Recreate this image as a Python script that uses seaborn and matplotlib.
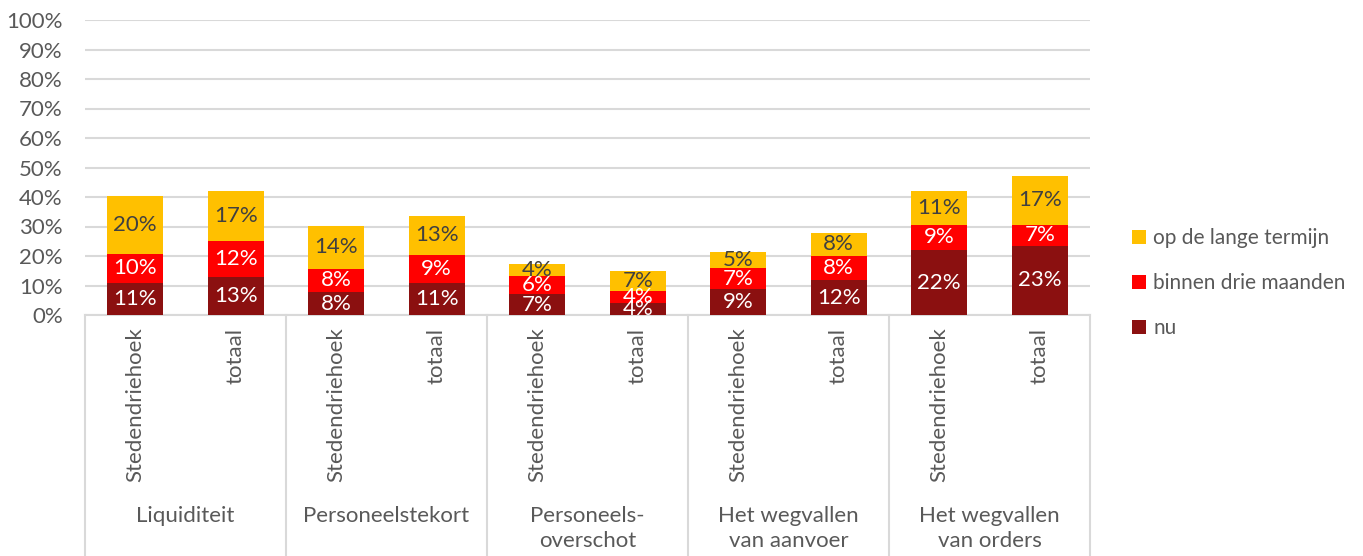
import numpy as np
import pandas as pd
import matplotlib
matplotlib.use("Agg")
import matplotlib.pyplot as plt
import matplotlib.transforms as mtransforms
import seaborn as sns

# categories
groups = ["Liquiditeit", "Personeelstekort", "Personeels-\noverschot",
          "Het wegvallen\nvan aanvoer", "Het wegvallen\nvan orders"]
subs = ["Stedendriehoek", "totaal"]

# series values (percent)
nu = [11.0, 13.0, 7.7, 11.0, 7.0, 4.0, 8.7, 11.8, 22.0, 23.4]
binnen = [9.7, 12.0, 8.0, 9.3, 6.3, 4.2, 7.3, 8.3, 8.6, 7.1]
lange = [19.7, 17.2, 14.4, 13.4, 4.0, 6.6, 5.2, 7.8, 11.3, 16.7]

series_names = ["nu", "binnen drie maanden", "op de lange termijn"]
colors = {"nu": "#8B1010", "binnen drie maanden": "#FF0000", "op de lange termijn": "#FFC000"}
label_colors = {"nu": "white", "binnen drie maanden": "white", "op de lange termijn": "#404040"}

plt.rcParams['font.family'] = ['Lato', 'DejaVu Sans']
gray = "#595959"
grid_c = "#D9D9D9"
fs = 16

bars = [g + "|" + s for g in groups for s in subs]
df = pd.DataFrame({"bar": bars, "nu": nu, "binnen drie maanden": binnen,
                   "op de lange termijn": lange})
df["c1"] = df["nu"]
df["c2"] = df["nu"] + df["binnen drie maanden"]
df["c3"] = df["c2"] + df["op de lange termijn"]

fig = plt.figure(figsize=(13.63, 5.56), dpi=100)
W, H = 1363, 556
ax = fig.add_axes([85 / W, 1 - 315 / H, (1090 - 85) / W, (315 - 20) / H])

# stacked bars drawn from top cumulative down
for col, name in [("c3", "op de lange termijn"), ("c2", "binnen drie maanden"), ("c1", "nu")]:
    sns.barplot(data=df, x="bar", y=col, order=bars, color=colors[name], width=0.56,
                label=name, ax=ax, saturation=1, zorder=3)

# data labels
cum_prev = np.zeros(len(bars))
for name in series_names:
    vals = df[name].to_numpy()
    for i, v in enumerate(vals):
        ax.text(i, cum_prev[i] + v / 2, f"{v:.0f}%", ha="center", va="center",
                color=label_colors[name], fontsize=fs, zorder=5)
    cum_prev = cum_prev + vals

ax.set_ylim(0, 100)
ax.set_xlim(-0.5, len(bars) - 0.5)
ax.set_yticks(np.arange(0, 101, 10))
ax.set_yticklabels([f"{t}%" for t in range(0, 101, 10)], color=gray, fontsize=fs)
ax.yaxis.grid(True, color=grid_c, linewidth=1.5, zorder=0)
ax.set_axisbelow(True)
for s in ["top", "right", "left"]:
    ax.spines[s].set_visible(False)
ax.spines["bottom"].set_color(grid_c)
ax.spines["bottom"].set_linewidth(1.5)
ax.tick_params(axis="y", length=0, pad=16)
ax.tick_params(axis="x", length=0, pad=9)
ax.set_xticks(range(len(bars)))
ax.set_xticklabels([s for g in groups for s in subs], rotation=90, va="top",
                   ha="center", color=gray, fontsize=fs)
ax.set_xlabel("")
ax.set_ylabel("")

# multi-level category axis
trans = mtransforms.blended_transform_factory(ax.transData, ax.transAxes)
for k in range(len(groups) + 1):
    xs = k * len(subs) - 0.5
    ax.plot([xs, xs], [0, -1.0], color=grid_c, linewidth=1.5, transform=trans, clip_on=False)
for k, g in enumerate(groups):
    xc = k * len(subs) + (len(subs) - 1) / 2
    ax.text(xc, -0.647, g, ha="center", va="top", color=gray, fontsize=fs,
            transform=trans, linespacing=1.3)

leg = ax.legend(loc="center left", bbox_to_anchor=(1132 / W, 1 - 283 / H),
                bbox_transform=fig.transFigure, frameon=False, fontsize=15,
                borderpad=0, borderaxespad=0,
                handlelength=0.68, handleheight=0.68, handletextpad=0.33, labelspacing=1.2)
for t in leg.get_texts():
    t.set_color(gray)

fig.savefig("out.png", dpi=100)
